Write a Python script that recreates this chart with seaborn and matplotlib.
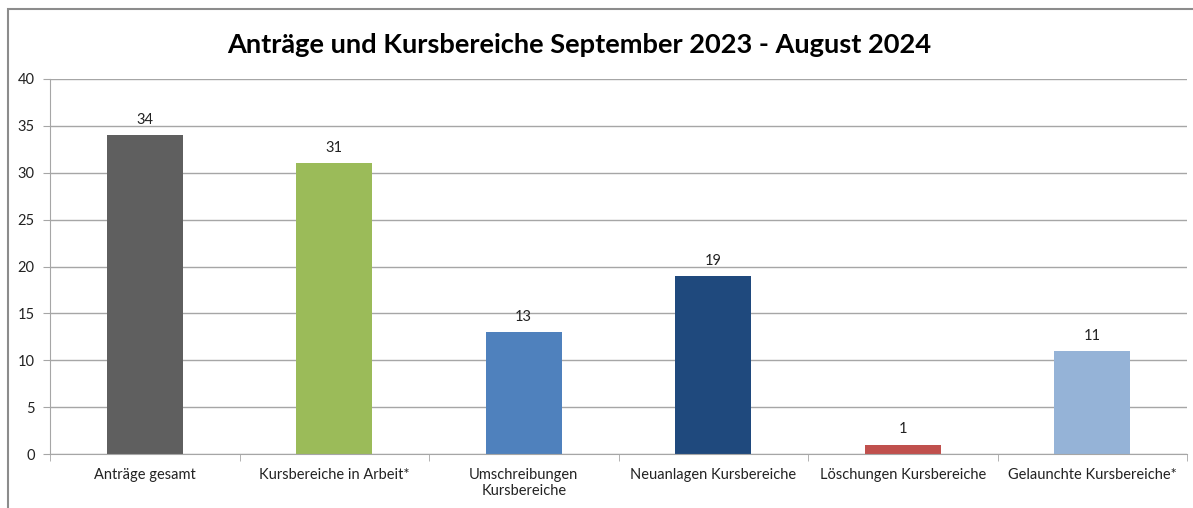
import matplotlib
matplotlib.use("Agg")
import matplotlib.pyplot as plt
import seaborn as sns
import pandas as pd
from matplotlib.patches import Rectangle

categories = ["Anträge gesamt", "Kursbereiche in Arbeit*", "Umschreibungen\nKursbereiche",
              "Neuanlagen Kursbereiche", "Löschungen Kursbereiche", "Gelaunchte Kursbereiche*"]
values = [34, 31, 13, 19, 1, 11]
colors = ["#5F5F5F", "#9BBB59", "#4F81BD", "#1F497D", "#C0504D", "#95B3D7"]
title = "Anträge und Kursbereiche September 2023 - August 2024"
yticks = [0, 5, 10, 15, 20, 25, 30, 35, 40]

sns.set_style("white")
plt.rcParams['font.family'] = ['Lato', 'DejaVu Sans']

W, H = 1193, 508
fig = plt.figure(figsize=(W / 100, H / 100), dpi=100)
fig.patch.set_facecolor("white")

# outer chart frame (left and top visible)
fig.add_artist(Rectangle((8 / W, -0.1), 1.2, (H - 9) / H + 0.1, transform=fig.transFigure,
                         fill=False, edgecolor="#8C8C8C", linewidth=1.5))

ax = fig.add_axes([50 / W, (H - 454) / H, 1137 / W, 375 / H])
df = pd.DataFrame({"cat": categories, "val": values})
sns.barplot(data=df, x="cat", y="val", hue="cat", palette=colors, width=0.4,
            legend=False, ax=ax, saturation=1, linewidth=0)

ax.set_ylim(0, 40)
ax.set_xlim(-0.5, len(categories) - 0.5)
ax.set_yticks(yticks)
ax.set_yticklabels([str(t) for t in yticks], fontsize=10.5, color="#222222")
ax.yaxis.grid(True, color="#A6A6A6", linewidth=1)
ax.set_axisbelow(True)
ax.set_xlabel("")
ax.set_ylabel("")
for s in ["top", "right"]:
    ax.spines[s].set_visible(False)
ax.spines["left"].set_color("#A6A6A6")
ax.spines["bottom"].set_color("#A6A6A6")
ax.tick_params(axis="y", which="major", left=True, length=5, color="#A6A6A6", pad=6)

# x ticks at category boundaries
ax.set_xticks(range(len(categories)))
ax.set_xticklabels(categories, fontsize=10.5, color="#222222")
ax.tick_params(axis="x", which="major", length=0, pad=10)
ax.set_xticks([i - 0.5 for i in range(len(categories) + 1)], minor=True)
ax.tick_params(axis="x", which="minor", bottom=True, length=5, color="#A6A6A6")

for c in ax.containers:
    ax.bar_label(c, fontsize=10.5, padding=6, color="#222222")

fig.text(579 / W, 1 - 45 / H, title, ha="center", va="center", fontsize=19.6,
         fontweight="bold", color="black")

fig.savefig("out.png", dpi=100)
